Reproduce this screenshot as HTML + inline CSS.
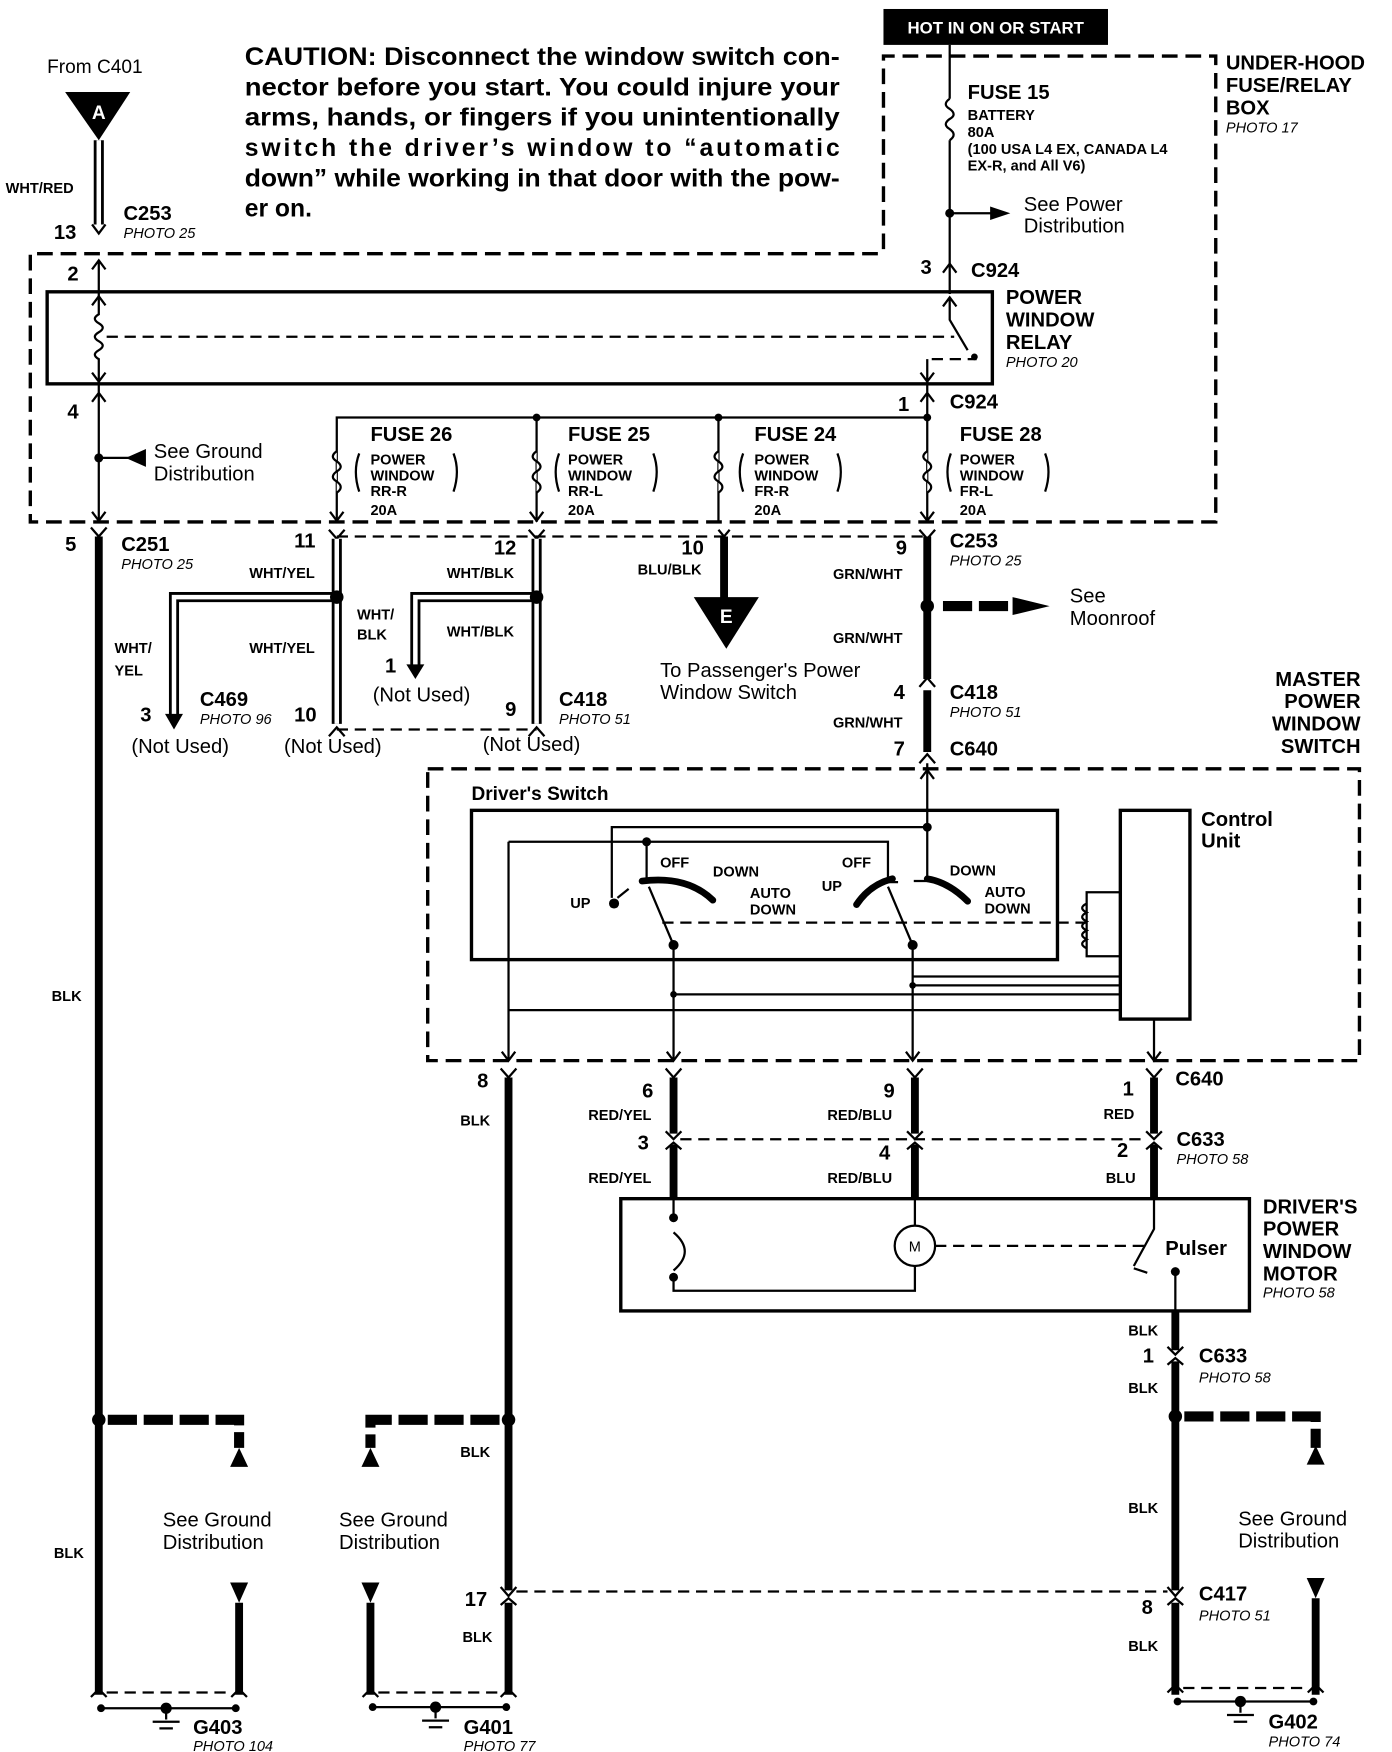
<!DOCTYPE html>
<html><head><meta charset="utf-8"><style>
html,body{margin:0;padding:0;background:#fff}
svg{display:block}
text{font-family:"Liberation Sans",sans-serif;fill:#000}
.b{font-weight:bold}
.h{font-weight:bold;font-size:18px}
.s{font-weight:bold;font-size:13px}
.p{font-style:italic;font-size:13px}
.n{font-size:18px}
.t{fill:none;stroke:#000;stroke-width:2}
.k{fill:none;stroke:#000;stroke-width:7}
.d{fill:none;stroke:#000;stroke-width:3;stroke-dasharray:14 7}
.dt{fill:none;stroke:#000;stroke-width:2;stroke-dasharray:10 6}
.dk{fill:none;stroke:#000;stroke-width:9;stroke-dasharray:26 6}
.wo{fill:none;stroke:#000;stroke-width:9}
.wi{fill:none;stroke:#fff;stroke-width:4}
</style></head><body>
<svg width="1392" height="1752" viewBox="0 0 1240 1561" preserveAspectRatio="none" xmlns="http://www.w3.org/2000/svg">
<text x="42" y="65" font-size="17">From C401</text>
<polygon points="58,82 116,82 88,125" fill="#000"/>
<text x="88" y="106" text-anchor="middle" class="b" font-size="17" style="fill:#fff">A</text>
<path class="wo" d="M88 125V200"/><path class="wi" d="M88 125V200"/>
<text x="5" y="172" class="s">WHT/RED</text>
<text x="48" y="213" class="h">13</text>
<path class="t" d="M82 200L88 208L94 200"/>
<text x="110" y="196" class="h">C253</text><text x="110" y="212" class="p">PHOTO 25</text>
<text x="60" y="250" class="h">2</text>
<path class="t" d="M88 232V262M82 240L88 232L94 240"/>
<g class="b" font-size="22">
<text x="218" y="58" textLength="530" lengthAdjust="spacingAndGlyphs">CAUTION: Disconnect the window switch con-</text>
<text x="218" y="85" textLength="530" lengthAdjust="spacingAndGlyphs">nector before you start. You could injure your</text>
<text x="218" y="112" textLength="530" lengthAdjust="spacingAndGlyphs">arms, hands, or fingers if you unintentionally</text>
<text x="218" y="139" textLength="530">switch the driver’s window to “automatic</text>
<text x="218" y="166" textLength="530" lengthAdjust="spacingAndGlyphs">down” while working in that door with the pow-</text>
<text x="218" y="193">er on.</text>
</g>
<rect x="787" y="8" width="200" height="32" fill="#000"/>
<text x="887" y="30" text-anchor="middle" class="b" font-size="15" style="fill:#fff">HOT IN ON OR START</text>
<path class="d" d="M787 222V50H1083V465H27V226H787"/>
<path class="t" d="M846 40V88M846 125V262"/>
<path class="t" d="M846 88q-7 5 0 9q7 5 0 9q-7 5 0 9q7 5 0 10"/>
<text x="862" y="88" class="h">FUSE 15</text>
<text x="862" y="107" class="s">BATTERY</text>
<text x="862" y="122" class="s">80A</text>
<text x="862" y="137" class="s">(100 USA L4 EX, CANADA L4</text>
<text x="862" y="152" class="s">EX-R, and All V6)</text>
<circle cx="846" cy="190" r="4"/>
<path class="t" d="M846 190H885"/><polygon points="882,184 900,190 882,196"/>
<text x="912" y="188" class="n">See Power</text><text x="912" y="207" class="n">Distribution</text>
<text x="1092" y="62" class="h">UNDER-HOOD</text><text x="1092" y="82" class="h">FUSE/RELAY</text><text x="1092" y="102" class="h">BOX</text>
<text x="1092" y="118" class="p">PHOTO 17</text>
<text x="820" y="244" class="h">3</text><text x="865" y="247" class="h">C924</text>
<path class="t" d="M840 243L846 235L852 243"/>
<rect x="42" y="260" width="842" height="82" fill="none" stroke="#000" stroke-width="3"/>
<path class="t" d="M88 262V280q-7 4 0 8q7 4 0 8q-7 4 0 8q7 4 0 8q-7 4 0 8V342"/>
<path class="t" d="M82 272L88 264L94 272M82 332L88 340L94 332"/>
<path class="dt" d="M95 300H850"/>
<path class="t" d="M846 265V285L862 312M840 273L846 265L852 273M826 320V342M820 332L826 340L832 332"/>
<path class="dt" d="M830 320H870"/><circle cx="868" cy="318" r="3"/>
<text x="896" y="271" class="h">POWER</text><text x="896" y="291" class="h">WINDOW</text><text x="896" y="311" class="h">RELAY</text>
<text x="896" y="327" class="p">PHOTO 20</text>
<path class="t" d="M88 342V465M82 358L88 350L94 358"/>
<text x="60" y="373" class="h">4</text>
<circle cx="88" cy="408" r="4"/><path class="t" d="M88 408H115"/><polygon points="130,400 112,408 130,416"/>
<text x="137" y="408" class="n">See Ground</text><text x="137" y="428" class="n">Distribution</text>
<path class="t" d="M826 342V465M820 358L826 350L832 358M826 372H300V465M478 372V465M640 372V465"/>
<text x="800" y="366" class="h">1</text><text x="846" y="364" class="h">C924</text>
<circle cx="478" cy="372" r="3.5"/><circle cx="640" cy="372" r="3.5"/><circle cx="826" cy="372" r="3.5"/>
<g fill="#fff" stroke="#000" stroke-width="2">
<path d="M300 402q-7 5 0 9q7 5 0 9q-7 5 0 9q7 5 0 10"/>
<path d="M478 402q-7 5 0 9q7 5 0 9q-7 5 0 9q7 5 0 10"/>
<path d="M640 402q-7 5 0 9q7 5 0 9q-7 5 0 9q7 5 0 10"/>
<path d="M826 402q-7 5 0 9q7 5 0 9q-7 5 0 9q7 5 0 10"/>
</g>
<g class="t">
<path d="M320 404q-6 16 0 34M404 404q6 16 0 34"/>
<path d="M498 404q-6 16 0 34M582 404q6 16 0 34"/>
<path d="M662 404q-6 16 0 34M746 404q6 16 0 34"/>
<path d="M847 404q-6 16 0 34M931 404q6 16 0 34"/>
</g>
<text x="330" y="393" class="h">FUSE 26</text><text x="330" y="414" class="s">POWER</text><text x="330" y="428" class="s">WINDOW</text><text x="330" y="442" class="s">RR-R</text><text x="330" y="459" class="s">20A</text>
<text x="506" y="393" class="h">FUSE 25</text><text x="506" y="414" class="s">POWER</text><text x="506" y="428" class="s">WINDOW</text><text x="506" y="442" class="s">RR-L</text><text x="506" y="459" class="s">20A</text>
<text x="672" y="393" class="h">FUSE 24</text><text x="672" y="414" class="s">POWER</text><text x="672" y="428" class="s">WINDOW</text><text x="672" y="442" class="s">FR-R</text><text x="672" y="459" class="s">20A</text>
<text x="855" y="393" class="h">FUSE 28</text><text x="855" y="414" class="s">POWER</text><text x="855" y="428" class="s">WINDOW</text><text x="855" y="442" class="s">FR-L</text><text x="855" y="459" class="s">20A</text>
<g class="t"><path d="M82 456L88 464L94 456M294 456L300 464L306 456M472 456L478 464L484 456M820 456L826 464L832 456"/></g>
<path class="t" d="M81 470L88 478L95 470"/>
<path class="k" d="M88 478V1510"/>
<text x="58" y="491" class="h">5</text><text x="108" y="491" class="h">C251</text><text x="108" y="507" class="p">PHOTO 25</text>
<text x="46" y="892" class="s">BLK</text>
<path class="t" d="M293 472L300 480L307 472M471 472L478 480L485 472"/>
<path class="dt" d="M300 478H826M300 650H478"/>
<g><path class="wo" d="M300 480V645M300 532H155V640"/><path class="wi" d="M300 480V645M300 532H155V640"/></g>
<polygon points="147,636 163,636 155,650"/>
<circle cx="300" cy="532" r="6"/>
<text x="262" y="488" class="h">11</text><text x="222" y="515" class="s">WHT/YEL</text>
<text x="102" y="582" class="s">WHT/</text><text x="102" y="602" class="s">YEL</text>
<text x="125" y="643" class="h">3</text><text x="178" y="629" class="h">C469</text><text x="178" y="645" class="p">PHOTO 96</text>
<text x="262" y="643" class="h">10</text><text x="222" y="582" class="s">WHT/YEL</text>
<text x="318" y="552" class="s">WHT/</text><text x="318" y="570" class="s">BLK</text>
<text x="117" y="671" class="n">(Not Used)</text><text x="253" y="671" class="n">(Not Used)</text><text x="430" y="669" class="n">(Not Used)</text>
<g><path class="wo" d="M478 480V645M478 532H370V595"/><path class="wi" d="M478 480V645M478 532H370V595"/></g>
<polygon points="362,592 378,592 370,605"/>
<circle cx="478" cy="532" r="6"/>
<text x="440" y="494" class="h">12</text><text x="398" y="515" class="s">WHT/BLK</text><text x="398" y="567" class="s">WHT/BLK</text>
<text x="343" y="599" class="h">1</text><text x="332" y="625" class="n">(Not Used)</text>
<text x="450" y="638" class="h">9</text><text x="498" y="629" class="h">C418</text><text x="498" y="645" class="p">PHOTO 51</text>
<path class="t" d="M293 656L300 648L307 656M471 656L478 648L485 656"/>
<path class="k" d="M645 478V535"/><path class="t" d="M640 472L645 478L650 472"/>
<polygon points="618,532 676,532 647,578"/>
<text x="647" y="555" text-anchor="middle" class="b" font-size="17" style="fill:#fff">E</text>
<text x="607" y="494" class="h">10</text><text x="568" y="512" class="s">BLU/BLK</text>
<text x="588" y="603" class="n">To Passenger's Power</text><text x="588" y="623" class="n">Window Switch</text>
<path class="k" d="M826 478V605M826 615V670"/>
<path class="t" d="M819 472L826 480L833 472M819 612L826 604L833 612M819 680L826 672L833 680"/>
<circle cx="826" cy="540" r="6"/>
<path class="dk" d="M840 540H905"/><polygon points="902,532 935,540 902,548"/>
<text x="953" y="537" class="n">See</text><text x="953" y="557" class="n">Moonroof</text>
<text x="798" y="494" class="h">9</text><text x="846" y="488" class="h">C253</text><text x="846" y="504" class="p">PHOTO 25</text>
<text x="742" y="516" class="s">GRN/WHT</text><text x="742" y="573" class="s">GRN/WHT</text>
<text x="796" y="623" class="h">4</text><text x="846" y="623" class="h">C418</text><text x="846" y="639" class="p">PHOTO 51</text>
<text x="742" y="648" class="s">GRN/WHT</text>
<text x="796" y="673" class="h">7</text><text x="846" y="673" class="h">C640</text>
<text x="1212" y="611" text-anchor="end" class="h">MASTER</text><text x="1212" y="631" text-anchor="end" class="h">POWER</text>
<text x="1212" y="651" text-anchor="end" class="h">WINDOW</text><text x="1212" y="671" text-anchor="end" class="h">SWITCH</text>
<path class="d" d="M381 685H1211V945H381Z"/>
<text x="420" y="713" class="b" font-size="17">Driver's Switch</text>
<rect x="420" y="722" width="522" height="133" fill="none" stroke="#000" stroke-width="3"/>
<rect x="998" y="722" width="62" height="186" fill="none" stroke="#000" stroke-width="3"/>
<text x="1070" y="736" class="h">Control</text><text x="1070" y="755" class="h">Unit</text>
<path class="t" d="M826 680V737M820 694L826 686L832 694"/>
<path class="t" d="M826 737H545V800M453 750H791V785M576 750V785M453 750V945"/>
<circle cx="826" cy="737" r="4"/><circle cx="576" cy="750" r="4"/>
<circle cx="547" cy="805" r="4.5"/><path class="t" d="M550 800L560 792"/>
<path d="M572 785Q612 780 635 802" fill="none" stroke="#000" stroke-width="6" stroke-linecap="round"/>
<path d="M763 806Q775 788 795 783" fill="none" stroke="#000" stroke-width="6" stroke-linecap="round"/>
<path d="M826 783Q845 786 862 803" fill="none" stroke="#000" stroke-width="6" stroke-linecap="round"/>
<path class="t" d="M826 737V783M786 786H800M814 785H830"/>
<path class="t" d="M578 790L600 842M791 790L813 842"/>
<circle cx="600" cy="842" r="4.5"/><circle cx="813" cy="842" r="4.5"/>
<path class="dt" d="M590 822H968"/>
<path class="t" d="M998 795H968V852H998M968 805q-8 4 0 8q-8 4 0 8q-8 4 0 8q-8 4 0 8q-8 4 0 8"/>
<g class="s" font-size="14">
<text x="588" y="773">OFF</text><text x="635" y="781">DOWN</text><text x="508" y="809">UP</text>
<text x="668" y="800">AUTO</text><text x="668" y="815">DOWN</text>
<text x="750" y="773">OFF</text><text x="732" y="794">UP</text><text x="846" y="780">DOWN</text>
<text x="877" y="799">AUTO</text><text x="877" y="814">DOWN</text>
</g>
<path class="t" d="M600 842V945M813 842V945M600 886H998M813 870H998M813 878H998M453 900H998M1028 908V945"/>
<circle cx="600" cy="886" r="3"/><circle cx="813" cy="878" r="3"/>
<path class="t" d="M447 937L453 945L459 937M594 937L600 945L606 937M807 937L813 945L819 937M1022 937L1028 945L1034 937"/>
<path class="t" d="M446 952L453 960L460 952M593 952L600 960L607 952M808 952L815 960L822 952M1021 952L1028 960L1035 952"/>
<path class="k" d="M453 960V1417M453 1428V1510"/>
<text x="425" y="969" class="h">8</text><text x="410" y="1003" class="s">BLK</text>
<circle cx="453" cy="1265" r="6"/>
<path class="dk" d="M445 1265H330V1290"/><polygon points="322,1307 338,1307 330,1290"/>
<text x="410" y="1298" class="s">BLK</text>
<text x="302" y="1360" class="n">See Ground</text><text x="302" y="1380" class="n">Distribution</text>
<path class="t" d="M446 1414L453 1422L460 1414M446 1430L453 1424L460 1430"/>
<text x="414" y="1431" class="h">17</text><text x="412" y="1463" class="s">BLK</text>
<path class="dt" d="M460 1418H1040"/>
<path class="k" d="M600 960V1010M600 1020V1068M815 960V1010M815 1020V1068M1028 960V1010M1028 1020V1068"/>
<path class="t" d="M593 1008L600 1015L607 1008M593 1024L600 1018L607 1024M808 1008L815 1015L822 1008M808 1024L815 1018L822 1024M1021 1008L1028 1015L1035 1008M1021 1024L1028 1018L1035 1024"/>
<path class="dt" d="M606 1015H1022"/>
<text x="572" y="978" class="h">6</text><text x="524" y="998" class="s">RED/YEL</text>
<text x="568" y="1024" class="h">3</text><text x="524" y="1054" class="s">RED/YEL</text>
<text x="787" y="978" class="h">9</text><text x="737" y="998" class="s">RED/BLU</text>
<text x="783" y="1033" class="h">4</text><text x="737" y="1054" class="s">RED/BLU</text>
<text x="1000" y="976" class="h">1</text><text x="1047" y="967" class="h">C640</text>
<text x="983" y="997" class="s">RED</text><text x="1048" y="1021" class="h">C633</text><text x="1048" y="1037" class="p">PHOTO 58</text>
<text x="995" y="1031" class="h">2</text><text x="985" y="1054" class="s">BLU</text>
<rect x="553" y="1068" width="560" height="100" fill="none" stroke="#000" stroke-width="3"/>
<path class="t" d="M600 1068V1085M600 1098Q620 1115 600 1132M600 1138V1150H815V1128M815 1068V1092"/>
<circle cx="600" cy="1085" r="4"/><circle cx="600" cy="1138" r="4"/>
<circle cx="815" cy="1110" r="18" fill="#fff" stroke="#000" stroke-width="2"/>
<text x="815" y="1115" text-anchor="middle" font-size="13">M</text>
<path class="dt" d="M833 1110H1022"/>
<path class="t" d="M1028 1068V1095L1010 1128M1047 1133V1168"/><circle cx="1047" cy="1133" r="4"/>
<path class="t" d="M1010 1130L1022 1134"/>
<text x="1038" y="1118" class="h">Pulser</text>
<text x="1125" y="1081" class="h">DRIVER'S</text><text x="1125" y="1101" class="h">POWER</text><text x="1125" y="1121" class="h">WINDOW</text><text x="1125" y="1141" class="h">MOTOR</text>
<text x="1125" y="1156" class="p">PHOTO 58</text>
<path class="k" d="M1047 1168V1203M1047 1213V1417M1047 1428V1510"/>
<path class="t" d="M1040 1200L1047 1207L1054 1200M1040 1216L1047 1210L1054 1216M1040 1414L1047 1422L1054 1414M1040 1430L1047 1424L1054 1430"/>
<text x="1005" y="1190" class="s">BLK</text><text x="1018" y="1214" class="h">1</text>
<text x="1068" y="1214" class="h">C633</text><text x="1068" y="1232" class="p">PHOTO 58</text>
<text x="1005" y="1241" class="s">BLK</text>
<circle cx="1047" cy="1262" r="6"/>
<path class="dk" d="M1055 1262H1172V1290"/><polygon points="1164,1305 1180,1305 1172,1288"/>
<text x="1005" y="1348" class="s">BLK</text>
<text x="1103" y="1359" class="n">See Ground</text><text x="1103" y="1379" class="n">Distribution</text>
<text x="1017" y="1438" class="h">8</text><text x="1068" y="1426" class="h">C417</text><text x="1068" y="1444" class="p">PHOTO 51</text>
<text x="1005" y="1471" class="s">BLK</text>
<polygon points="1164,1406 1180,1406 1172,1424"/><path class="k" d="M1172 1424V1510"/>
<circle cx="88" cy="1265" r="6"/>
<path class="dk" d="M96 1265H213V1290"/><polygon points="205,1307 221,1307 213,1290"/>
<text x="48" y="1388" class="s">BLK</text>
<text x="145" y="1360" class="n">See Ground</text><text x="145" y="1380" class="n">Distribution</text>
<polygon points="205,1410 221,1410 213,1428"/><path class="k" d="M213 1428V1510"/>
<polygon points="322,1410 338,1410 330,1428"/><path class="k" d="M330 1428V1510"/>
<g>
<path class="t" d="M81 1512L88 1505L95 1512M206 1512L213 1505L220 1512"/>
<path class="dt" d="M95 1508H206"/>
<path class="t" d="M90 1522H210"/><circle cx="90" cy="1522" r="3.5"/><circle cx="210" cy="1522" r="3.5"/>
<circle cx="148" cy="1522" r="5"/><path class="t" d="M148 1522V1532M136 1534H160M142 1540H154"/>
<text x="172" y="1545" class="h">G403</text><text x="172" y="1560" class="p">PHOTO 104</text>
</g>
<g>
<path class="t" d="M323 1512L330 1505L337 1512M446 1512L453 1505L460 1512"/>
<path class="dt" d="M337 1508H446"/>
<path class="t" d="M332 1521H451"/><circle cx="332" cy="1521" r="3.5"/><circle cx="451" cy="1521" r="3.5"/>
<circle cx="388" cy="1521" r="5"/><path class="t" d="M388 1521V1531M376 1533H400M382 1539H394"/>
<text x="413" y="1545" class="h">G401</text><text x="413" y="1560" class="p">PHOTO 77</text>
</g>
<g>
<path class="t" d="M1040 1508L1047 1501L1054 1508M1165 1508L1172 1501L1179 1508"/>
<path class="dt" d="M1054 1504H1165"/>
<path class="t" d="M1049 1516H1170"/><circle cx="1049" cy="1516" r="3.5"/><circle cx="1170" cy="1516" r="3.5"/>
<circle cx="1105" cy="1516" r="5"/><path class="t" d="M1105 1516V1526M1093 1528H1117M1099 1534H1111"/>
<text x="1130" y="1540" class="h">G402</text><text x="1130" y="1556" class="p">PHOTO 74</text>
</g>
</svg>
</body></html>
